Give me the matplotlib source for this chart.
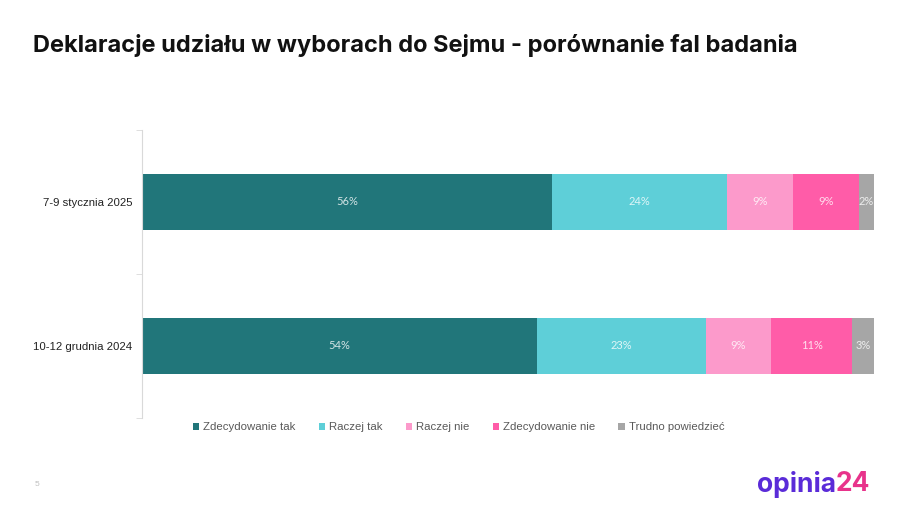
import matplotlib.pyplot as plt

# data
waves = ['7-9 stycznia 2025', '10-12 grudnia 2024']
answers = ['Zdecydowanie tak', 'Raczej tak', 'Raczej nie', 'Zdecydowanie nie', 'Trudno powiedzieć']
values = {
    'Zdecydowanie tak': [56, 54],
    'Raczej tak': [24, 23],
    'Raczej nie': [9, 9],
    'Zdecydowanie nie': [9, 11],
    'Trudno powiedzieć': [2, 3],
}
colors = ['#21767A', '#5ECFD8', '#FC9ACB', '#FF5CA8', '#A6A6A6']

fig = plt.figure(figsize=(9.15, 5.14), dpi=100)
ax = fig.add_axes([0.1552, 0.1868, 0.7998, 0.5603])

ypos = list(range(len(waves)))
left = [0] * len(waves)
handles = []
for name, col in zip(answers, colors):
    vals = values[name]
    bars = ax.barh(ypos, vals, left=left, height=0.39, color=col, label=name)
    handles.append(bars)
    for y, l, v in zip(ypos, left, vals):
        ax.text(l + v / 2, y, f'{v}%', ha='center', va='center',
                color='white', fontsize=8, family='Lato', alpha=0.8)
    left = [a + b for a, b in zip(left, vals)]

ax.set_xlim(0, 100)
ax.set_ylim(1.5, -0.5)
ax.set_yticks(ypos)
ax.set_yticklabels(waves, fontsize=8.2, family='Liberation Sans', color='#222222')
ax.set_yticks([-0.5, 0.5, 1.5], minor=True)
ax.tick_params(axis='y', which='major', length=0, pad=7)
ax.tick_params(axis='y', which='minor', length=4, color='#D9D9D9')
ax.set_xticks([])
for s in ['top', 'right', 'bottom']:
    ax.spines[s].set_visible(False)
ax.spines['left'].set_color('#D9D9D9')

leg = fig.legend(handles=handles, labels=answers, loc='center', ncol=5,
                 bbox_to_anchor=(0.501, 0.169), frameon=False,
                 prop={'family': 'Liberation Sans', 'size': 8.2},
                 handlelength=0.6, handleheight=0.6, handletextpad=0.3,
                 columnspacing=2.05)
for t in leg.get_texts():
    t.set_color('#595959')

fig.text(0.036, 0.912, 'Deklaracje udziału w wyborach do Sejmu - porównanie fal badania',
         fontsize=17, fontweight='bold', family='Inter', color='#111111',
         va='center', ha='left')
fig.text(0.038, 0.054, '5', fontsize=6, color='#BFBFBF', family='Liberation Sans')

# logo
t1 = fig.text(0.827, 0.058, 'opinia', fontsize=19, fontweight='bold',
              family='Inter', color='#5A2BD8', ha='left', va='center')
fig.canvas.draw()
bb = t1.get_window_extent()
fig.text(bb.x1 / fig.bbox.width, 0.058, '24', fontsize=19, fontweight='bold',
         family='Inter', color='#E8338B', ha='left', va='center')

fig.savefig('out.png', dpi=100)
